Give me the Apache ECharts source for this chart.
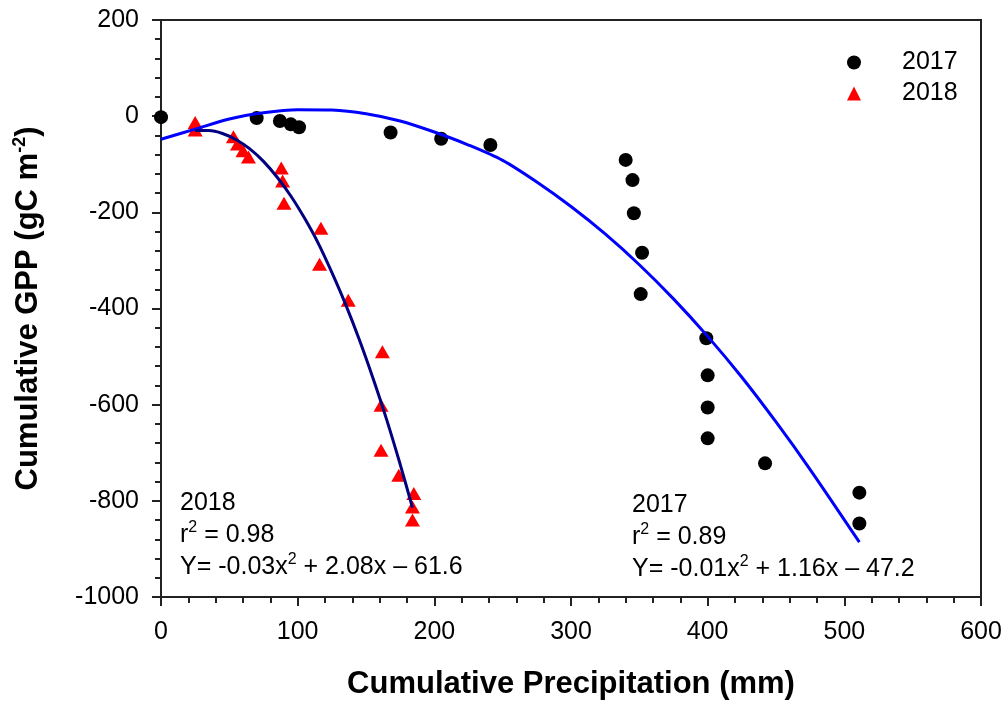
<!DOCTYPE html>
<html><head><meta charset="utf-8">
<script src="https://cdn.jsdelivr.net/npm/echarts@6/dist/echarts.min.js"></script>
<style>html,body{margin:0;padding:0;background:#fff}#c{width:1008px;height:708px}</style>
</head><body><div id="c"></div>
<script>
// ---- data ----
const precip2017 = [0, 70, 87, 95, 101, 168, 205, 241, 340, 345, 346, 352, 351, 399, 400, 400, 400, 442, 511, 511];
const gpp2017    = [-2, -4, -10, -17, -23, -34, -47, -60, -91, -133, -202, -284, -370, -462, -539, -606, -670, -722, -783, -847];
const precip2018 = [25, 25, 53, 56, 60, 64, 88, 89, 90, 117, 116, 137, 162, 161, 161, 174, 185, 184, 184];
const gpp2018    = [-13, -29, -43, -58, -72, -85, -108, -135, -181, -233, -308, -383, -490, -601, -695, -747, -785, -813, -840];
// fitted curves
const fit2017X = [0, 25, 50, 75, 100, 125, 150, 175, 200, 225, 250, 275, 300, 325, 350, 375, 400, 425, 450, 475, 511];
const fit2017Y = [-48, -27, -6, 7, 13.5, 12.7, 5, -10, -33, -60, -92, -137, -188, -245, -309, -380, -458, -543, -636, -735, -886];
const fit2018X = [25, 35, 45, 55, 65, 75, 85, 95, 105, 115, 125, 135, 145, 155, 165, 175, 184];
const fit2018Y = [-30, -30, -36, -49, -68, -94, -127, -166, -212, -264, -325, -391, -464, -544, -630, -724, -814];
const seriesNames = ['2017', '2018'];
const annot2018 = ['2018', '0.98', '-0.03', '2.08', '61.6'];
const annot2017 = ['2017', '0.89', '-0.01', '1.16', '47.2'];

const zip = (xs, ys) => xs.map((x, i) => [x, ys[i]]);
const FONT = '"Liberation Sans", Arial, sans-serif';
const chart = echarts.init(document.getElementById('c'), null, {renderer: 'canvas'});

function annotText(a) {
  return '{n|' + a[0] + '}\n{n|r}{s|2}{n| = ' + a[1] + '}\n{n|Y= ' + a[2] + 'x}{s|2}{n| + ' + a[3] + 'x \u2013 ' + a[4] + '}';
}
const annRich = {
  n: {fontSize: 25, fontFamily: FONT, fill: '#000', lineHeight: 32},
  s: {fontSize: 16, fontFamily: FONT, fill: '#000', lineHeight: 32, verticalAlign: 'top'}
};

const axisCommon = {
  axisLine: {show: true, onZero: false, lineStyle: {color: '#222', width: 2}},
  axisTick: {show: true, inside: false, length: 9, lineStyle: {color: '#222', width: 2}},
  minorTick: {show: true, splitNumber: 5, length: 6, lineStyle: {color: '#222', width: 2}},
  splitLine: {show: false},
  minorSplitLine: {show: false},
  axisLabel: {color: '#000', fontSize: 25, fontFamily: FONT, formatter: v => String(v)}
};

chart.setOption({
  animation: false,
  backgroundColor: '#fff',
  grid: {left: 161, top: 20, right: 27, bottom: 111, show: true, borderColor: '#222', borderWidth: 2, containLabel: false, outerBoundsMode: 'none'},
  legend: {
    data: seriesNames, orient: 'vertical', left: 842, top: 45,
    itemWidth: 14, itemHeight: 14, itemGap: 6,
    formatter: name => '{g|}{t|' + name + '}',
    textStyle: {fontSize: 25, fontFamily: FONT, color: '#000',
      rich: {g: {width: 36}, t: {fontSize: 25, fontFamily: FONT, color: '#000'}}}
  },
  xAxis: Object.assign({}, axisCommon, {
    type: 'value', min: 0, max: 600, interval: 100,
    name: 'Cumulative Precipitation (mm)', nameLocation: 'middle', nameGap: 72,
    nameTextStyle: {fontSize: 31, fontWeight: 'bold', fontFamily: FONT, color: '#000'},
    axisLabel: Object.assign({}, axisCommon.axisLabel, {margin: 23})
  }),
  yAxis: Object.assign({}, axisCommon, {
    type: 'value', min: -1000, max: 200, interval: 200,
    name: '{b|Cumulative GPP (gC m}{s|-2}{b|)}', nameLocation: 'middle', nameGap: 116,
    nameTextStyle: {
      rich: {
        b: {fontSize: 31, fontWeight: 'bold', fontFamily: FONT, color: '#000', lineHeight: 34},
        s: {fontSize: 18, fontWeight: 'bold', fontFamily: FONT, color: '#000', lineHeight: 34, verticalAlign: 'top'}
      }
    },
    axisLabel: Object.assign({}, axisCommon.axisLabel, {margin: 22})
  }),
  graphic: [
    {type: 'text', left: 180, top: 491, z: 10, style: {text: annotText(annot2018), rich: annRich, fontFamily: FONT}},
    {type: 'text', left: 632, top: 493, z: 10, style: {text: annotText(annot2017), rich: annRich, fontFamily: FONT}}
  ],
  series: [
    {name: 'fit2017', type: 'line', data: zip(fit2017X, fit2017Y), smooth: 0.3, showSymbol: false, symbol: 'none',
     lineStyle: {color: '#0000ff', width: 3}, z: 3, silent: true},
    {name: 'fit2018', type: 'line', data: zip(fit2018X, fit2018Y), smooth: 0.3, showSymbol: false, symbol: 'none',
     lineStyle: {color: '#000080', width: 3}, z: 3, silent: true},
    {name: seriesNames[0], type: 'scatter', data: zip(precip2017, gpp2017), symbol: 'circle', symbolSize: 14,
     itemStyle: {color: '#000', opacity: 1}, z: 2},
    {name: seriesNames[1], type: 'scatter', data: zip(precip2018, gpp2018), symbol: 'triangle', symbolSize: [15, 13],
     itemStyle: {color: '#ff0000', opacity: 1}, z: 2}
  ]
});
</script></body></html>
